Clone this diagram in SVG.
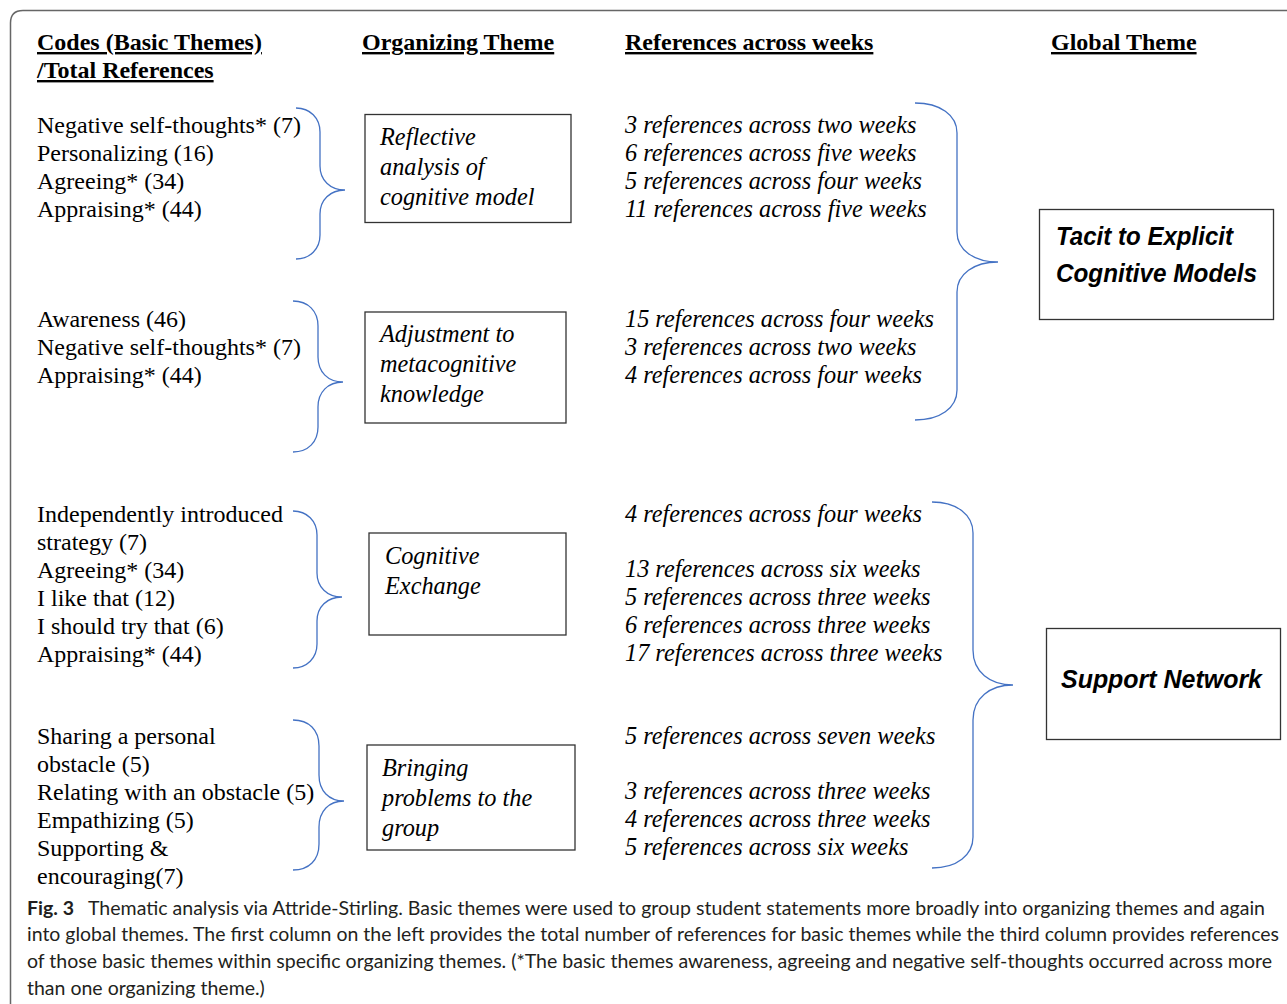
<svg xmlns="http://www.w3.org/2000/svg" width="1287" height="1004" viewBox="0 0 1287 1004">
<style>
.hd{font-family:"Liberation Serif",serif;font-weight:bold;font-size:24px;fill:#000;text-decoration:underline}
.code{font-family:"Liberation Serif",serif;font-size:24px;fill:#000}
.it{font-family:"Liberation Serif",serif;font-style:italic;font-size:24.3px;fill:#000}
.gl{font-family:"Liberation Sans",sans-serif;font-style:italic;font-weight:bold;font-size:25px;fill:#000}
.box{fill:#fff;stroke:#333;stroke-width:1.3}
.brace{fill:none;stroke:#4472C4;stroke-width:1.3}
.cap{font-family:Lato,"Liberation Sans",sans-serif;font-size:19.5px;fill:#231f20}
</style>
<rect width="1287" height="1004" fill="#fff"/>
<path d="M10.5,1004 V23 Q10.5,10.5 23,10.5 H1287" fill="none" stroke="#666" stroke-width="1.5"/>

<g id="headers">
<text class="hd" x="37" y="50">Codes (Basic Themes)</text>
<text class="hd" x="37" y="78">/Total References</text>
<text class="hd" x="362" y="50">Organizing Theme</text>
<text class="hd" x="625" y="50">References across weeks</text>
<text class="hd" x="1051" y="50">Global Theme</text>
</g>

<g id="codes1">
<text class="code" x="37" y="133">Negative self-thoughts* (7)</text>
<text class="code" x="37" y="161">Personalizing (16)</text>
<text class="code" x="37" y="189">Agreeing* (34)</text>
<text class="code" x="37" y="217">Appraising* (44)</text>
</g>
<g id="codes2">
<text class="code" x="37" y="327">Awareness (46)</text>
<text class="code" x="37" y="355">Negative self-thoughts* (7)</text>
<text class="code" x="37" y="383">Appraising* (44)</text>
</g>
<g id="codes3">
<text class="code" x="37" y="522">Independently introduced</text>
<text class="code" x="37" y="550">strategy (7)</text>
<text class="code" x="37" y="578">Agreeing* (34)</text>
<text class="code" x="37" y="606">I like that (12)</text>
<text class="code" x="37" y="634">I should try that (6)</text>
<text class="code" x="37" y="662">Appraising* (44)</text>
</g>
<g id="codes4">
<text class="code" x="37" y="744">Sharing a personal</text>
<text class="code" x="37" y="772">obstacle (5)</text>
<text class="code" x="37" y="800">Relating with an obstacle (5)</text>
<text class="code" x="37" y="828">Empathizing (5)</text>
<text class="code" x="37" y="856">Supporting &amp;</text>
<text class="code" x="37" y="884">encouraging(7)</text>
</g>

<g id="org1">
<rect class="box" x="365" y="114.5" width="206" height="108"/>
<text class="it" x="380" y="145">Reflective</text>
<text class="it" x="380" y="175">analysis of</text>
<text class="it" x="380" y="205">cognitive model</text>
</g>
<g id="org2">
<rect class="box" x="365" y="312" width="201" height="111"/>
<text class="it" x="380" y="342">Adjustment to</text>
<text class="it" x="380" y="372">metacognitive</text>
<text class="it" x="380" y="402">knowledge</text>
</g>
<g id="org3">
<rect class="box" x="369" y="533" width="197" height="102"/>
<text class="it" x="385" y="564">Cognitive</text>
<text class="it" x="385" y="594">Exchange</text>
</g>
<g id="org4">
<rect class="box" x="367" y="745" width="208" height="105"/>
<text class="it" x="382" y="776">Bringing</text>
<text class="it" x="382" y="806">problems to the</text>
<text class="it" x="382" y="836">group</text>
</g>

<g id="refs1">
<text class="it" x="625" y="133">3 references across two weeks</text>
<text class="it" x="625" y="161">6 references across five weeks</text>
<text class="it" x="625" y="189">5 references across four weeks</text>
<text class="it" x="625" y="217">11 references across five weeks</text>
</g>
<g id="refs2">
<text class="it" x="625" y="327">15 references across four weeks</text>
<text class="it" x="625" y="355">3 references across two weeks</text>
<text class="it" x="625" y="383">4 references across four weeks</text>
</g>
<g id="refs3">
<text class="it" x="625" y="522">4 references across four weeks</text>
<text class="it" x="625" y="577">13 references across six weeks</text>
<text class="it" x="625" y="605">5 references across three weeks</text>
<text class="it" x="625" y="633">6 references across three weeks</text>
<text class="it" x="625" y="661">17 references across three weeks</text>
</g>
<g id="refs4">
<text class="it" x="625" y="744">5 references across seven weeks</text>
<text class="it" x="625" y="799">3 references across three weeks</text>
<text class="it" x="625" y="827">4 references across three weeks</text>
<text class="it" x="625" y="855">5 references across six weeks</text>
</g>

<g id="global1">
<rect class="box" x="1039.5" y="209.5" width="234" height="110"/>
<text class="gl" x="1056" y="245" textLength="177" lengthAdjust="spacingAndGlyphs">Tacit to Explicit</text>
<text class="gl" x="1056" y="282" textLength="201" lengthAdjust="spacingAndGlyphs">Cognitive Models</text>
</g>
<g id="global2">
<rect class="box" x="1046.5" y="628.5" width="234" height="111"/>
<text class="gl" x="1061" y="688" textLength="201" lengthAdjust="spacingAndGlyphs">Support Network</text>
</g>

<g id="connectors">
<path class="brace" d="M296,108 C310,108 320,118 320,132 V166 C320,180 330,190 345,190 C330,190 320,200 320,214 V235 C320,249 310,259 296,259"/>
<path class="brace" d="M293,301 C308,301 318,311 318,326 V357 C318,372 328,382 343,382 C328,382 318,392 318,407 V427 C318,442 308,452 293,452"/>
<path class="brace" d="M293,511 C307,511 317,521 317,535 V573 C317,587 327,597 342,597 C327,597 317,607 317,621 V644 C317,658 307,668 293,668"/>
<path class="brace" d="M293,720 C309,720 319,730 319,746 V775 C319,791 329,801 344,801 C329,801 319,811 319,827 V844 C319,860 309,870 293,870"/>
<path class="brace" d="M915,103 C940,103 957,115 957,133 V232 C957,250 974,262 998,262 C974,262 957,274 957,292 V390 C957,408 940,420 915,420"/>
<path class="brace" d="M932,502 C957,502 973,515 973,533 V650 C973,672 990,685 1013,685 C990,685 973,698 973,720 V837 C973,855 957,868 932,868"/>
</g>

<g id="caption">
<text class="cap" x="27" y="915"><tspan font-weight="bold">Fig. 3</tspan></text>
<text class="cap" x="88" y="915" textLength="1177" lengthAdjust="spacingAndGlyphs">Thematic analysis via Attride-Stirling. Basic themes were used to group student statements more broadly into organizing themes and again</text>
<text class="cap" x="27" y="941" textLength="1252" lengthAdjust="spacingAndGlyphs">into global themes. The first column on the left provides the total number of references for basic themes while the third column provides references</text>
<text class="cap" x="27" y="968" textLength="1245" lengthAdjust="spacingAndGlyphs">of those basic themes within specific organizing themes. (*The basic themes awareness, agreeing and negative self-thoughts occurred across more</text>
<text class="cap" x="27" y="995">than one organizing theme.)</text>
</g>
</svg>
